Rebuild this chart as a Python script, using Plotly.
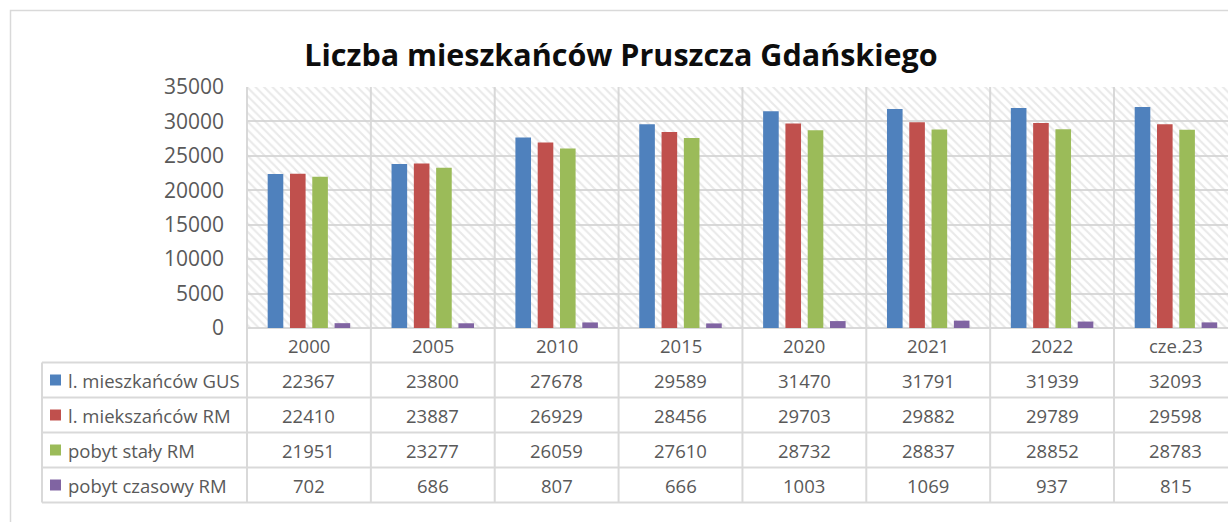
import plotly.graph_objects as go

# ---------------- data ----------------
categories = ["2000", "2005", "2010", "2015", "2020", "2021", "2022", "cze.23"]
series_names = ["l. mieszkańców GUS", "l. miekszańców RM", "pobyt stały RM", "pobyt czasowy RM"]
gus = [22367, 23800, 27678, 29589, 31470, 31791, 31939, 32093]
rm = [22410, 23887, 26929, 28456, 29703, 29882, 29789, 29598]
staly = [21951, 23277, 26059, 27610, 28732, 28837, 28852, 28783]
czasowy = [702, 686, 807, 666, 1003, 1069, 937, 815]
y_ticks = [0, 5000, 10000, 15000, 20000, 25000, 30000, 35000]
title_text = "Liczba mieszkańców Pruszcza Gdańskiego"

series_values = [gus, rm, staly, czasowy]
colors = ["#4F81BD", "#C0504D", "#9BBB59", "#8064A2"]

# ---------------- layout geometry (pixels) ----------------
W, H = 1228, 522
PL, PR, PT, PB = 247, 1228, 87, 328
COL_W = 123.86
LEG_L = 42
ROW_LINES = [PB, 362.5, 397.5, 432.5, 467.5, 502.5]
GRID = "#D9D9D9"
TXT = "#595959"
FONT = "Open Sans"

def px_x(p):
    return (p - PL) / (PR - PL)

def px_y(p):
    return (PB - p) / (PB - PT)

x_idx = list(range(len(categories)))
x_range = [-0.5, -0.5 + (PR - PL) / COL_W]
y_max = y_ticks[-1]

fig = go.Figure()

# hatched plot-area background
fig.add_trace(go.Bar(
    x=x_idx, y=[y_max] * len(x_idx), width=1,
    marker=dict(color="rgba(255,255,255,0)", line=dict(width=0),
                pattern=dict(shape="\\", size=6, solidity=0.35, fgcolor="#D3D3D3",
                             bgcolor="rgba(255,255,255,0)", fillmode="overlay")),
    hoverinfo="skip", showlegend=False, xaxis="x", yaxis="y",
))

for name, vals, col in zip(series_names, series_values, colors):
    fig.add_trace(go.Bar(
        x=x_idx, y=vals, name=name, marker=dict(color=col, line=dict(width=0)),
        xaxis="x2", yaxis="y2", showlegend=False,
    ))

shapes = []
# outer chart frame
shapes.append(dict(type="rect", xref="paper", yref="paper",
                   x0=px_x(10.5), x1=px_x(1240), y0=px_y(10.5), y1=px_y(540),
                   line=dict(color=GRID, width=1.5), layer="below"))
# vertical column lines (plot + table)
for k in range(len(categories) + 1):
    shapes.append(dict(type="line", xref="x", yref="paper",
                       x0=-0.5 + k, x1=-0.5 + k, y0=px_y(ROW_LINES[-1]), y1=1,
                       line=dict(color=GRID, width=2), layer="below"))
shapes.append(dict(type="line", xref="paper", yref="paper",
                   x0=px_x(PL), x1=px_x(PL), y0=px_y(ROW_LINES[-1]), y1=1,
                   line=dict(color=GRID, width=2), layer="below"))
# legend column left border
shapes.append(dict(type="line", xref="paper", yref="paper",
                   x0=px_x(LEG_L), x1=px_x(LEG_L), y0=px_y(ROW_LINES[1]), y1=px_y(ROW_LINES[-1]),
                   line=dict(color=GRID, width=2)))
# horizontal table lines
for r in ROW_LINES[1:]:
    shapes.append(dict(type="line", xref="paper", yref="paper",
                       x0=px_x(LEG_L), x1=1.02, y0=px_y(r), y1=px_y(r),
                       line=dict(color=GRID, width=2)))

annotations = []
# category labels
hy = (ROW_LINES[0] + ROW_LINES[1]) / 2
for i, c in enumerate(categories):
    annotations.append(dict(x=i, y=px_y(hy), xref="x", yref="paper", text=c,
                            showarrow=False, xanchor="center", yanchor="middle",
                            font=dict(family=FONT, size=18.5, color=TXT)))
# table rows
for r, (name, vals, col) in enumerate(zip(series_names, series_values, colors)):
    cy = (ROW_LINES[r + 1] + ROW_LINES[r + 2]) / 2
    shapes.append(dict(type="rect", xref="paper", yref="paper",
                       x0=px_x(50), x1=px_x(61), y0=px_y(cy - 5.5), y1=px_y(cy + 5.5),
                       fillcolor=col, line=dict(width=0)))
    annotations.append(dict(x=px_x(66), y=px_y(cy), xref="paper", yref="paper", text=name,
                            showarrow=False, xanchor="left", yanchor="middle",
                            font=dict(family=FONT, size=18.5, color=TXT)))
    for i, v in enumerate(vals):
        annotations.append(dict(x=i, y=px_y(cy), xref="x", yref="paper", text=str(v),
                                showarrow=False, xanchor="center", yanchor="middle",
                                font=dict(family=FONT, size=18.5, color=TXT)))

axis_common = dict(range=x_range, showgrid=False, zeroline=False, showticklabels=False,
                   showline=False, ticks="", fixedrange=True)

fig.update_layout(
    width=W, height=H,
    margin=dict(l=PL, r=W - PR, t=PT, b=H - PB, pad=0),
    paper_bgcolor="white", plot_bgcolor="white",
    barmode="group", bargap=0.28, bargroupgap=0.3,
    title=dict(text=title_text, x=px_x(621), xref="paper", xanchor="center",
               y=1 - 55 / H, yref="container", yanchor="middle",
               font=dict(family=FONT, size=30.5, color="#0D0D0D", weight="bold")),
    xaxis=dict(**axis_common, type="linear"),
    xaxis2=dict(**axis_common, type="linear", overlaying="x"),
    yaxis=dict(range=[0, y_max], tickvals=y_ticks, tickformat="d",
               tickfont=dict(family=FONT, size=21, color=TXT),
               showgrid=True, gridcolor=GRID, gridwidth=2,
               zeroline=True, zerolinecolor=GRID, zerolinewidth=2,
               showline=False, ticks="", ticklabelstandoff=22, fixedrange=True),
    yaxis2=dict(range=[0, y_max], overlaying="y", visible=False, fixedrange=True),
    shapes=shapes, annotations=annotations, showlegend=False,
)

fig.write_html("out.html", config={"displayModeBar": False},
               post_script="document.body.style.margin='0px';document.body.style.overflow='hidden';")
